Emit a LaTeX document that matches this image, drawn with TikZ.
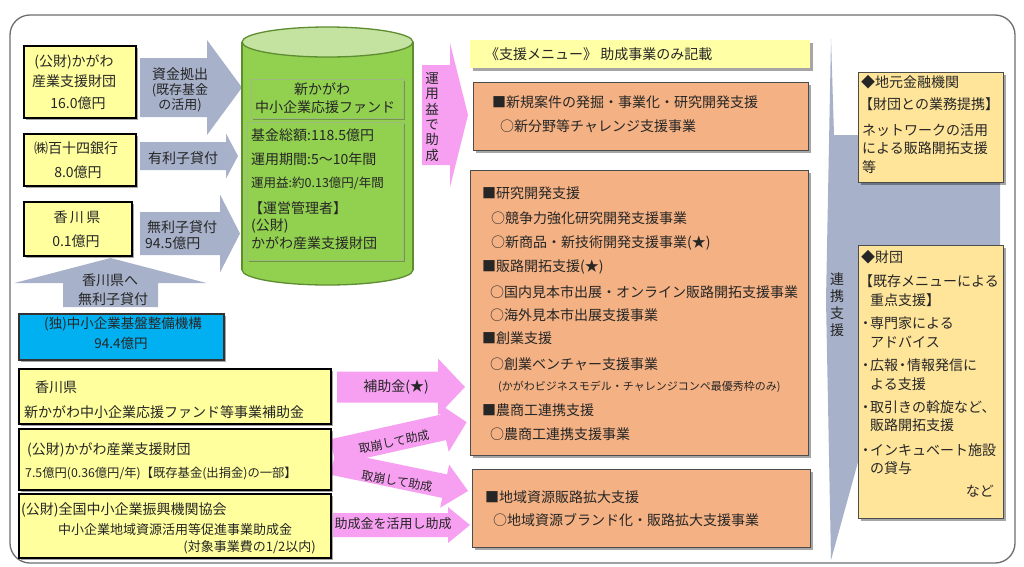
\documentclass[tikz,border=0pt]{standalone}
\usepackage{fontspec}
\setmainfont{Noto Sans CJK JP}
\usetikzlibrary{shadows}
\definecolor{yfill}{HTML}{FFFF9E}
\definecolor{hfill}{HTML}{FFFFA6}
\definecolor{ofill}{HTML}{F4B183}
\definecolor{rfill}{HTML}{FFE59A}
\definecolor{gfill}{HTML}{A7B1C9}
\definecolor{pfill}{HTML}{F7A0F2}
\definecolor{cgreen}{HTML}{92D050}
\definecolor{ctop}{HTML}{C5E3A0}
\definecolor{cedge}{HTML}{5E8C31}
\definecolor{bfill}{HTML}{00B0F0}
\definecolor{tcol}{HTML}{262626}
\definecolor{frame}{HTML}{6E6E6E}
\newcommand\fsz[1]{\fontsize{#1}{#1}\selectfont}
\newcommand\ndot{\makebox[9pt]{・}}
\newcommand\blockarrow[5]{\fill[#1] (0,-#3) -- ({#2-#5},-#3) -- ({#2-#5},-#4) -- (#2,0) -- ({#2-#5},#4) -- ({#2-#5},#3) -- (0,#3) -- cycle;}
\newcommand\boxnode[6]{\node[#2, anchor=north west, minimum width={(#5-#3)*1pt}, minimum height={(#6-#4)*1pt}, inner sep=0pt] (#1) at (#3,#4) {};}
\tikzset{
  shd/.style={drop shadow={shadow xshift=2.5pt, shadow yshift=-2.5pt, opacity=0.35, fill=black}},
  ybox/.style={draw=black, line width=1.7pt, fill=yfill, shd},
  obox/.style={draw=black!70, line width=1.1pt, fill=ofill, shd},
  rbox/.style={draw=black!70, line width=1.1pt, fill=rfill, shd},
  bbox/.style={draw=black!80, line width=1.5pt, fill=bfill, shd},
  hbox/.style={fill=hfill, shd},
  inbox/.style={fill=cgreen, draw=cedge!60, line width=0.6pt, drop shadow={shadow xshift=1.5pt, shadow yshift=-1.5pt, opacity=0.25, fill=black}},
  txt/.style={inner sep=0pt, text=tcol, font=\fsz{14}},
  ltxt/.style={txt, anchor=west},
  rtxt/.style={txt, anchor=east},
}
\begin{document}
\begin{tikzpicture}[x=1pt,y=-1pt]
\useasboundingbox (0,0) rectangle (1024,566);
\fill[white] (0,0) rectangle (1024,566);
% frame
\draw[frame, line width=1.3pt, rounded corners=20pt] (10,15) rectangle (1015,563);

% linkage shape behind right boxes
\fill[gfill] (831,38) -- (834,135) -- (1000,135) -- (1000,462) -- (858,462) -- (831,560) -- (826,300) -- cycle;

% gray arrows
\begin{scope}[shift={(140,87.5)}]\blockarrow{gfill}{102}{29.5}{47.5}{35}\end{scope}
\begin{scope}[shift={(140,156)}]\blockarrow{gfill}{98}{14}{22.5}{12}\end{scope}
\begin{scope}[shift={(140,233.5)}]\blockarrow{gfill}{100}{21.5}{39}{20}\end{scope}
\begin{scope}[shift={(110.5,307)},rotate=90]\blockarrow{gfill}{49}{47.5}{96}{25}\end{scope}

% pink arrows
\begin{scope}[shift={(422,115)}]\blockarrow{pfill}{46}{50}{72}{18}\end{scope}
\begin{scope}[shift={(337,387)}]\blockarrow{pfill}{128}{15.5}{28.5}{27}\end{scope}
\begin{scope}[shift={(333,452)},rotate=12.6]\blockarrow{pfill}{137}{13}{25}{24}\end{scope}
\begin{scope}[shift={(333,463)},rotate=-11.7]\blockarrow{pfill}{138}{12}{22}{24}\end{scope}
\begin{scope}[shift={(333,525)}]\blockarrow{pfill}{137}{12}{18}{22}\end{scope}

% source boxes
\boxnode{zaidan}{ybox}{23}{45}{135}{117}
\node[txt] (zaidanA) at (74,62) {(公財)かがわ};
\node[txt] (zaidanB) at (74,81) {産業支援財団};
\node[txt] (zaidanC) at (78,103) {16.0億円};
\boxnode{bank}{ybox}{23}{133}{135}{185}
\node[txt] (bankA) at (76,148) {㈱百十四銀行};
\node[txt] (bankB) at (78,172) {8.0億円};
\boxnode{pref}{ybox}{23}{201}{131}{255}
\node[txt] (prefA) at (77,217) {香\,川\,県};
\node[txt] (prefB) at (76,241) {0.1億円};

% gray arrow labels
\node[txt] (a1A) at (180,74) {資金拠出};
\node[txt, font=\fsz{13}] (a1B) at (180,90) {(既存基金};
\node[txt, font=\fsz{13}] (a1C) at (180,105) {の活用)};
\node[txt] (a2) at (183,158) {有利子貸付};
\node[txt] (a3A) at (182,227) {無利子貸付};
\node[ltxt] (a3B) at (145,243) {94.5億円};
\node[txt] (a4A) at (110,280) {香川県へ};
\node[txt] (a4B) at (113,299) {無利子貸付};

% cylinder fund
\fill[cgreen, draw=cedge, line width=1.3pt] (327.5,270) ellipse[x radius=85.5, y radius=15];
\fill[cgreen] (242,42) rectangle (413,270);
\draw[cedge, line width=1.3pt] (242,42) -- (242,270) (413,42) -- (413,270);
\fill[ctop, draw=cedge, line width=1.3pt] (327.5,42) ellipse[x radius=85.5, y radius=15];
\boxnode{fundT}{inbox}{251}{79}{403}{118}
\node[txt] (fundA) at (322,89) {新かがわ};
\node[txt] (fundB) at (325,107) {中小企業応援ファンド};
\boxnode{fundB}{inbox}{247}{122}{403}{260}
\node[ltxt] (fund1) at (251,135) {基金総額:118.5億円};
\node[ltxt] (fund2) at (251,159) {運用期間:5～10年間};
\node[ltxt, font=\fsz{12.5}] (fund3) at (251,183) {運用益:約0.13億円/年間};
\node[ltxt] (fund4) at (249,208) {【運営管理者】};
\node[ltxt] (fund5) at (251,226) {(公財)};
\node[ltxt] (fund6) at (251,243) {かがわ産業支援財団};

% vertical label
\node[txt, align=center, font=\fsz{13.5}] (unyo) at (432,117) {運\\[1.8pt]用\\[1.8pt]益\\[1.8pt]で\\[1.8pt]助\\[1.8pt]成};

% menu header
\boxnode{menu}{hbox}{470}{40}{810}{68}
\node[ltxt] (menuT) at (485,54) {《支援メニュー》 助成事業のみ記載};

% orange boxes
\boxnode{ob1}{obox}{473}{82}{808}{150}
\node[ltxt] (ob1A) at (492,102) {■新規案件の発掘・事業化・研究開発支援};
\node[ltxt] (ob1B) at (500,126) {○新分野等チャレンジ支援事業};

\boxnode{ob2}{obox}{470}{170}{808}{455}
\node[ltxt] (ob2a) at (482,193) {■研究開発支援};
\node[ltxt] (ob2b) at (491,218) {○競争力強化研究開発支援事業};
\node[ltxt] (ob2c) at (491,243) {○新商品・新技術開発支援事業(★)};
\node[ltxt] (ob2d) at (482,267) {■販路開拓支援(★)};
\node[ltxt] (ob2e) at (490,292) {○国内見本市出展・オンライン販路開拓支援事業};
\node[ltxt] (ob2f) at (490,315) {○海外見本市出展支援事業};
\node[ltxt] (ob2g) at (482,338) {■創業支援};
\node[ltxt] (ob2h) at (490,364) {○創業ベンチャー支援事業};
\node[ltxt, font=\fsz{11}] (ob2i) at (498,387) {(かがわビジネスモデル・チャレンジコンペ最優秀枠のみ)};
\node[ltxt] (ob2j) at (482,410) {■農商工連携支援};
\node[ltxt] (ob2k) at (490,434) {○農商工連携支援事業};

\boxnode{ob3}{obox}{472}{469}{810}{547}
\node[ltxt] (ob3a) at (485,497) {■地域資源販路拡大支援};
\node[ltxt] (ob3b) at (493,520) {○地域資源ブランド化・販路拡大支援事業};

% linkage label
\node[txt, align=center] (renkei) at (837,305) {連\\[3pt]携\\[3pt]支\\[3pt]援};

% right boxes
\boxnode{rb1}{rbox}{858}{72}{1003}{182}
\node[ltxt] (rb1a) at (861,82) {◆地元金融機関};
\node[ltxt] (rb1b) at (859,104) {【財団との業務提携】};
\node[ltxt] (rb1c) at (862,130) {ネットワークの活用};
\node[ltxt] (rb1d) at (862,148) {による販路開拓支援};
\node[ltxt] (rb1e) at (862,167) {等};

\boxnode{rb2}{rbox}{858}{245}{1003}{518}
\node[ltxt] (rb2a) at (861,257) {◆財団};
\node[ltxt] (rb2b) at (859,281) {【既存メニューによる};
\node[ltxt] (rb2c) at (870,300) {重点支援】};
\node[ltxt] (rb2d) at (861,323) {\ndot 専門家による};
\node[ltxt] (rb2e) at (870,342) {アドバイス};
\node[ltxt] (rb2f) at (861,365) {\ndot 広報\ndot 情報発信に};
\node[ltxt] (rb2g) at (870,384) {よる支援};
\node[ltxt] (rb2h) at (861,407) {\ndot 取引きの斡旋など、};
\node[ltxt] (rb2i) at (870,425) {販路開拓支援};
\node[ltxt] (rb2j) at (861,450) {\ndot インキュベート施設};
\node[ltxt] (rb2k) at (870,468) {の貸与};
\node[rtxt] (rb2l) at (994,491) {など};

% lower left
\boxnode{smrj}{bbox}{18}{313}{223}{359}
\node[txt, font=\fsz{13.5}] (smrjA) at (123,324) {(独)中小企業基盤整備機構};
\node[txt, font=\fsz{13.5}] (smrjB) at (121,343) {94.4億円};

\boxnode{kpref}{ybox}{18}{368}{330}{423}
\node[ltxt] (kprefA) at (35,387) {香川県};
\node[ltxt] (kprefB) at (24,412) {新かがわ中小企業応援ファンド等事業補助金};

\boxnode{kzai}{ybox}{18}{428}{330}{489}
\node[ltxt] (kzaiA) at (27,450) {(公財)かがわ産業支援財団};
\node[ltxt, font=\fsz{12.3}] (kzaiB) at (25,473) {7.5億円(0.36億円/年)【既存基金(出捐金)の一部】};

\boxnode{zenkoku}{ybox}{18}{493}{330}{557}
\node[ltxt] (zenA) at (21,510) {(公財)全国中小企業振興機関協会};
\node[ltxt, font=\fsz{13}] (zenB) at (58,530) {中小企業地域資源活用等促進事業助成金};
\node[rtxt, font=\fsz{13}] (zenC) at (316,547) {(対象事業費の1/2以内)};

% pink arrow labels
\node[txt] (p1) at (396,387) {補助金(★)};
\node[txt, font=\fsz{12}, rotate=12] (p2) at (394,442) {取崩して助成};
\node[txt, font=\fsz{12}, rotate=-10] (p3) at (397,481) {取崩して助成};
\node[txt, font=\fsz{13}] (p4) at (393,524) {助成金を活用し助成};
\end{tikzpicture}
\end{document}
